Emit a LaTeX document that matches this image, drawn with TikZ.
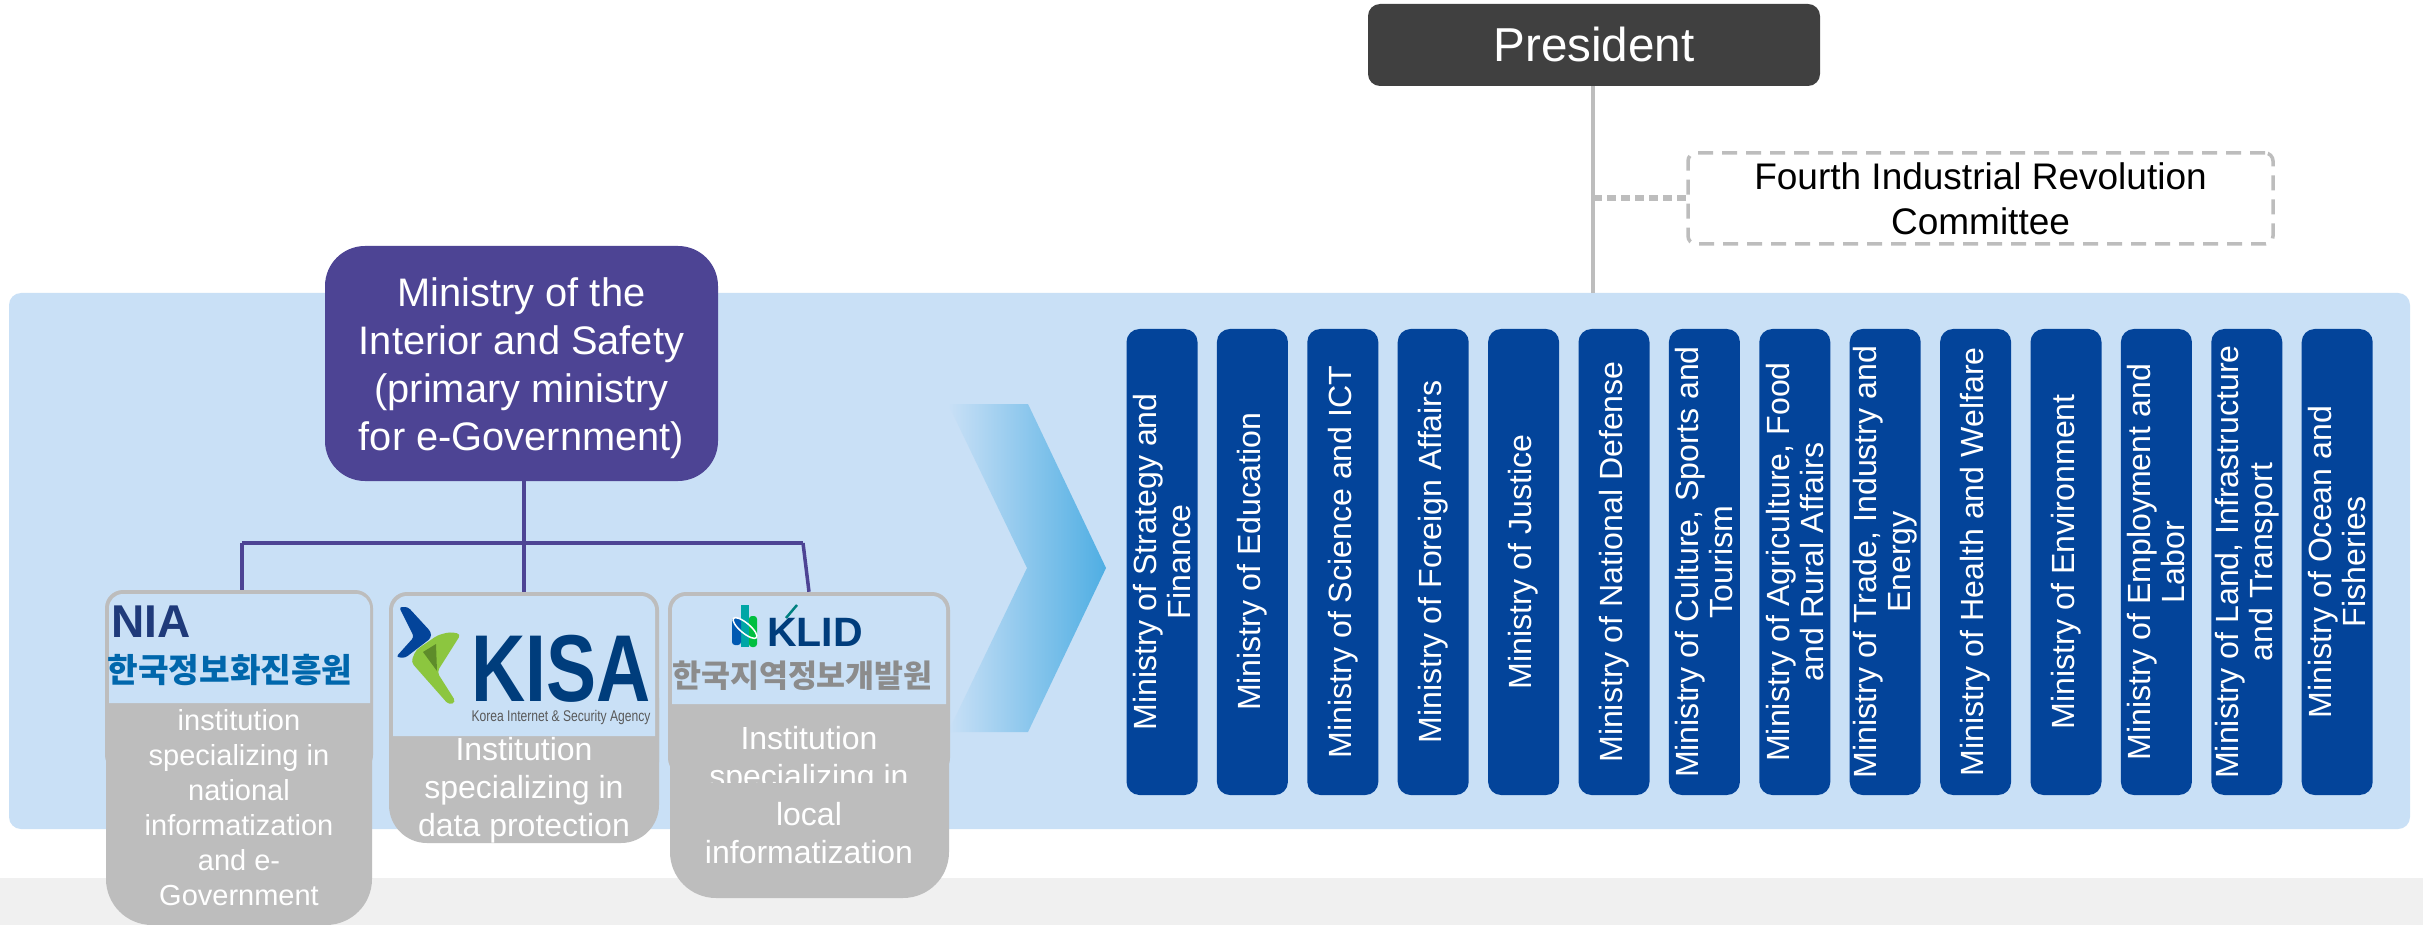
\documentclass[tikz,border=0pt]{standalone}
\usepackage{fontspec}
\usepackage{xcolor}
\setmainfont{Liberation Sans}
\newfontfamily\krfont{Noto Sans CJK KR}
\usetikzlibrary{arrows.meta}

\definecolor{panelblue}{HTML}{C9E0F6}
\definecolor{bandgray}{HTML}{F0F0F0}
\definecolor{cardgray}{HTML}{BDBDBD}
\definecolor{presgray}{HTML}{404040}
\definecolor{mopurple}{HTML}{4D4494}
\definecolor{minblue}{HTML}{03449A}
\definecolor{tipblue}{HTML}{4FAEE3}
\definecolor{kisablue}{HTML}{003D7C}
\definecolor{kisagreen}{HTML}{8CC63F}
\definecolor{kisafold}{HTML}{5E8C2A}
\definecolor{nianavy}{HTML}{1F3A7A}
\definecolor{niablue}{HTML}{0067AC}

\newcommand{\fs}[1]{\fontsize{#1}{#1}\selectfont}

\tikzset{
    ministry/.style = {fill = minblue, draw = none, rounded corners = 13, rotate = 90,
        minimum width = 466, minimum height = 71, inner sep = 0, align = center, text = white,
        font = \fontsize{32.1}{34}\selectfont},
    cardtop/.style = {fill = cardgray, draw = none, rounded corners = 18, inner sep = 0},
    cardbody/.style = {fill = cardgray, draw = none},
    logoback/.style = {fill = panelblue, draw = none},
    cardtext/.style = {text = white, align = center, inner sep = 0},
    logotext/.style = {inner sep = 0},
    purpleline/.style = {mopurple, line width = 3.5},
    grayline/.style = {cardgray, line width = 4.5}
}

\begin{document}
\begin{tikzpicture}[x = 1pt, y = -1pt]
    \useasboundingbox (0, 0) rectangle (2423, 925);
    \fill [white] (0, 0) rectangle (2423, 925);
    \fill [bandgray] (0, 878) rectangle (2423, 925);
    \fill [panelblue, rounded corners = 12] (9, 293) rectangle (2410, 829);

    % president
    \node [fill = presgray, rounded corners = 12, minimum width = 452, minimum height = 82, inner sep = 0,
        text = white, font = \fs{47.6}] (president) at (1594, 45) {\raisebox{1.5pt}{President}};
    \coordinate (panelin) at (1593, 293);
    \draw [grayline] (president.south -| panelin) -- (panelin);
    \node [draw = cardgray, dash pattern = on 15pt off 9pt, line width = 3.5, rounded corners = 8,
        minimum width = 585, minimum height = 91, inner sep = 0, align = center,
        font = \fontsize{37}{45}\selectfont] (committee) at (1980.5, 198.5) {Fourth Industrial Revolution\\Committee};
    \coordinate (tap) at (1593, 198.5);
    \draw [cardgray, line width = 6, dash pattern = on 9pt off 5pt] (tap) -- (committee.west);

    % arrow to the ministries
    \shade [left color = panelblue, right color = tipblue] (948, 404) -- (1028, 404) -- (1106, 568)
        -- (1028, 732) -- (948, 732) -- (1027, 568) -- cycle;

    % ministries
    \foreach \n/\t in {0/{Ministry of Strategy and\\Finance}, 1/{Ministry of Education},
        2/{Ministry of Science and ICT}, 3/{Ministry of Foreign Affairs}, 4/{Ministry of Justice},
        5/{Ministry of National Defense}, 6/{Ministry of Culture, Sports and\\Tourism},
        7/{Ministry of Agriculture, Food\\and Rural Affairs}, 8/{Ministry of Trade, Industry and\\Energy},
        9/{Ministry of Health and Welfare}, 10/{Ministry of Environment},
        11/{Ministry of Employment and\\Labor}, 12/{Ministry of Land, Infrastructure\\and Transport},
        13/{Ministry of Ocean and\\Fisheries}}
        \node [ministry] (min\n) at (1162 + \n * 90.4, 562) {\t};

    % primary ministry and its institutions
    \node [fill = mopurple, rounded corners = 40, minimum width = 393, minimum height = 235, inner sep = 0,
        align = center, text = white, font = \fontsize{39.8}{48}\selectfont] (mois) at (521.5, 363.5)
        {\rule{0pt}{38pt}Ministry of the\\Interior and Safety\\(primary ministry\\for e-Government)};

    \coordinate (busl) at (242, 543);
    \coordinate (busm) at (524, 543);
    \coordinate (busr) at (803, 543);
    \draw [purpleline] (mois.south -| busm) -- (busm);
    \draw [purpleline] (busl) -- (busr);

    \fill [cardbody, rounded corners = 46] (106, 660) rectangle (372, 925);
    \fill [cardbody, rounded corners = 38] (389, 660) rectangle (659, 843);
    \fill [cardbody, rounded corners = 46] (670, 660) rectangle (949, 898);

    \node [cardtop, minimum width = 268, minimum height = 183] (nia) at (239, 681.5) {};
    \node [cardtop, minimum width = 270, minimum height = 188] (kisa) at (524, 686) {};
    \node [cardtop, minimum width = 282, minimum height = 184] (klid) at (809, 684) {};

    \draw [purpleline] (busl) -- (busl |- nia.north);
    \draw [purpleline] (busm) -- (kisa.north);
    \draw [purpleline] (busr) -- (klid.north);

    \fill [logoback] (109, 703) [rounded corners = 14] -- (109, 594) -- (370, 594) [sharp corners] -- (370, 703) -- cycle;
    \fill [logoback] (393, 736) [rounded corners = 14] -- (393, 596) -- (655, 596) [sharp corners] -- (655, 736) -- cycle;
    \fill [logoback] (672, 704) [rounded corners = 14] -- (672, 596) -- (946, 596) [sharp corners] -- (946, 704) -- cycle;

    % logos
    \node [logotext, anchor = west, text = nianavy, font = \bfseries\fs{46}] (nianame) at (111, 622) {NIA};
    \node [logotext, text = niablue, font = \krfont\bfseries\fs{33.3}] (niakr) at (230, 670) {한국정보화진흥원};

    \fill [minblue, rounded corners = 3] (399, 607) -- (408, 607) -- (431, 632) -- (431, 638) -- (405, 658) -- (396, 657)
        -- (414, 637) -- cycle;
    \fill [kisagreen, rounded corners = 4] (450, 632) -- (461, 634) -- (437, 672) -- (456, 702) -- (449, 705)
        -- (411, 662) -- (416, 650) -- (438, 635) -- cycle;
    \fill [kisafold] (423, 652) -- (436, 644) -- (437, 671) -- cycle;
    \node [logotext, text = kisablue, xscale = 0.79, font = \bfseries\fs{95}] (kisaname) at (561, 669) {KISA};
    \node [logotext, text = black!65, xscale = 0.78, font = \fs{15.5}] (kisaen) at (561, 717) {Korea Internet \& Security Agency};

    \fill [teal!70!cyan] (741, 605) rectangle (749, 647);
    \fill [green!50!teal, rounded corners = 3] (749, 616) rectangle (757, 647);
    \fill [blue!50!cyan!70!black, rounded corners = 3] (732, 618) rectangle (741, 645);
    \draw [white, line width = 1.5, rotate around = {-40:(745, 628)}] (745, 628) ellipse [x radius = 15, y radius = 5];
    \draw [teal, line width = 2.5] (797, 605) -- (786, 618);
    \node [logotext, text = kisablue, font = \bfseries\fs{41}] (klidname) at (815, 632.5) {KLID};
    \node [logotext, text = black!45, font = \krfont\bfseries\fs{31.5}] (klidkr) at (802.5, 675.5) {한국지역정보개발원};

    % institution texts
    \node [cardtext, font = \fontsize{29}{35}\selectfont] (niatext) at (239, 807.5)
        {institution\\specializing in\\national\\informatization\\and e-\\Government};
    \node [cardtext, font = \fontsize{32}{38}\selectfont] (kisatext) at (524, 790)
        {Institution\\specializing in\\data protection};
    \node [cardtext, font = \fontsize{32}{38}\selectfont] (klidtext) at (809, 795.5)
        {Institution\\specializing in\\local\\informatization};
    \fill [cardgray] (700, 783) rectangle (920, 794);
\end{tikzpicture}
\end{document}
